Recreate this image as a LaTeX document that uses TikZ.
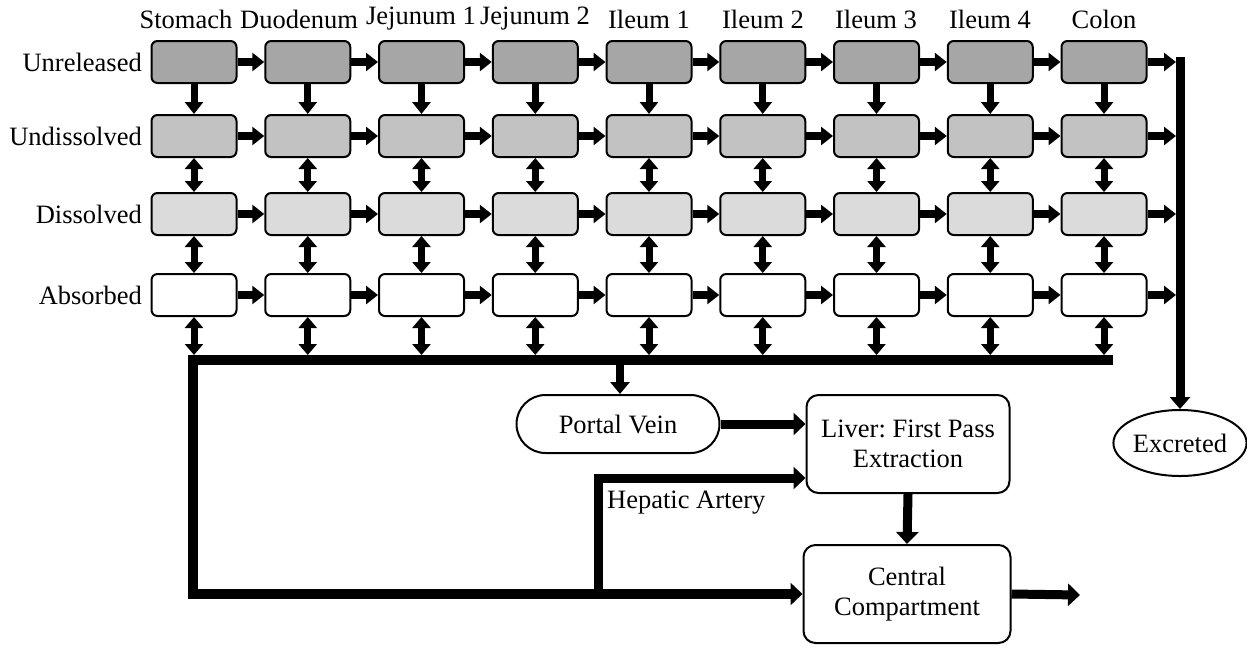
\documentclass[tikz,border=0pt]{standalone}
\usepackage{fontspec}
\setmainfont{Liberation Serif}
\usetikzlibrary{arrows.meta,shapes.geometric,calc}
\definecolor{gU}{gray}{0.65}
\definecolor{gUD}{gray}{0.76}
\definecolor{gD}{gray}{0.86}
\frenchspacing
\begin{document}
\begin{tikzpicture}[x=1pt,y=-1pt,
  txt/.style={font=\fontsize{26.5}{30}\selectfont, inner sep=0pt},
  cell/.style={draw, line width=2pt, rounded corners=6pt, minimum width=85pt, minimum height=42pt, inner sep=0pt},
  bigbox/.style={draw, line width=2pt, rounded corners=12pt, align=center, inner sep=0pt, font=\fontsize{26.5}{30}\selectfont},
  harr/.style={line width=8pt, -{Triangle[length=12pt,width=18pt]}},
  varr/.style={line width=7pt, -{Triangle[length=12pt,width=18pt]}},
  vdarr/.style={line width=7pt, {Triangle[length=11pt,width=18pt]}-{Triangle[length=11pt,width=18pt]}},
  thick10/.style={line width=10pt},
  tharr/.style={line width=9pt, -{Triangle[length=12pt,width=22pt]}}
]
\useasboundingbox (0,0) rectangle (1247,646);

\foreach \r/\t/\y in {u/Unreleased/62, ud/Undissolved/136, d/Dissolved/214, a/Absorbed/295}{
  \node[txt, anchor=east] (lab\r) at (142,\y) {\t};
}

\foreach \i/\t/\lx in {0/Stomach/186,1/Duodenum/299,2/Jejunum 1/421,3/Jejunum 2/535,4/Ileum 1/649,5/Ileum 2/763,6/Ileum 3/876,7/Ileum 4/990,8/Colon/1104}{
  \pgfmathsetmacro\cx{194+113.75*\i}
  \node[txt] (h\i) at (\lx,19) {\t};
  \node[cell, fill=gU] (u\i) at (\cx,62) {};
  \node[cell, fill=gUD] (ud\i) at (\cx,136) {};
  \node[cell, fill=gD] (d\i) at (\cx,214) {};
  \node[cell, fill=white] (a\i) at (\cx,295) {};
  \coordinate (b\i) at (\cx,355);
  \draw[varr] (u\i) -- (ud\i);
  \draw[vdarr] (ud\i) -- (d\i);
  \draw[vdarr] (d\i) -- (a\i);
  \draw[vdarr] (a\i) -- (b\i);
}

\foreach \i [evaluate=\i as \j using int(\i+1)] in {0,...,7}{
  \draw[harr] (u\i) -- (u\j);
  \draw[harr] (ud\i) -- (ud\j);
  \draw[harr] (d\i) -- (d\j);
  \draw[harr] (a\i) -- (a\j);
}

% right exit line
\coordinate (e1) at (1176,62);
\coordinate (e2) at (1176,136);
\coordinate (e3) at (1176,214);
\coordinate (e4) at (1176,295);
\draw[harr] (u8) -- (e1);
\draw[harr] (ud8) -- (e2);
\draw[harr] (d8) -- (e3);
\draw[harr] (a8) -- (e4);
\node[draw, ellipse, line width=2pt, minimum width=130pt, minimum height=66pt, inner sep=0pt, font=\fontsize{26.5}{30}\selectfont] (exc) at (1180,443) {Excreted};
\coordinate (rtop) at (1180,57);
\draw[line width=9pt, -{Triangle[length=12pt,width=20pt]}] (rtop) -- (exc.north);

% lower compartments
\node[draw, line width=2pt, rounded corners=29pt, minimum width=203pt, minimum height=58pt, inner sep=0pt, font=\fontsize{26.5}{30}\selectfont] (pv) at (618,424) {Portal Vein};
\node[bigbox, minimum width=203pt, minimum height=98pt] (liver) at (908,444) {Liver: First Pass\\Extraction};
\node[bigbox, minimum width=207pt, minimum height=98pt] (cen) at (907,594) {Central\\Compartment};

% absorption bar
\coordinate (barR) at (1113,360);
\coordinate (barL) at (193,360);
\coordinate (pvIn) at (620,360);
\draw[thick10, -{Triangle[length=12pt,width=22pt]}] (barR) -- (barL) |- (cen.west);
\draw[line width=8pt, -{Triangle[length=12pt,width=19pt]}] (pvIn) -- (pv.north -| pvIn);
\draw[tharr] (pv.east) -- (pv.east -| liver.west);
\coordinate (hepB) at (598,595);
\draw[tharr] (hepB) |- ($(liver.west)+(0,34)$);
\node[txt, anchor=west] (hep) at (607,503) {Hepatic Artery};
\draw[tharr] (liver.south) -- (cen.north);
\coordinate (out) at (1080,595);
\draw[tharr] (cen.east) -- (out);
\end{tikzpicture}
\end{document}
